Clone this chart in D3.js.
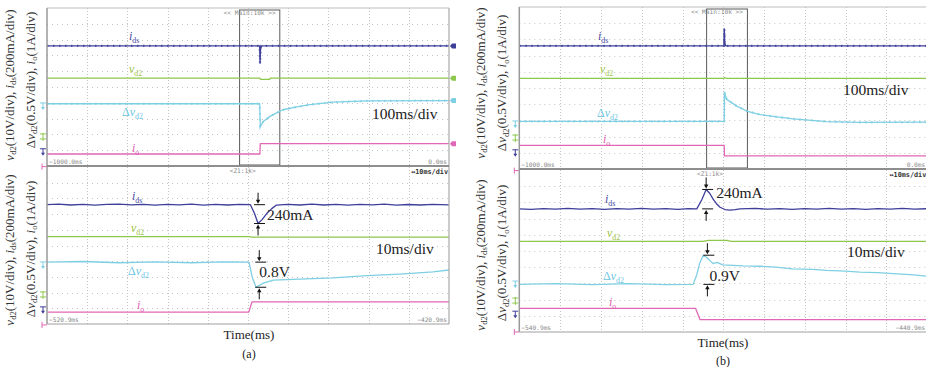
<!DOCTYPE html>
<html>
<head>
<meta charset="utf-8">
<script src="https://cdn.jsdelivr.net/npm/d3@7"></script>
<style>
  html, body { margin: 0; padding: 0; background: #fff; }
  svg { display: block; }
</style>
</head>
<body>
<svg id="fig" width="926" height="367"></svg>
<script>
// ---------------------------------------------------------------
// Measured waveforms: [time (ms), value] pairs, value relative to
// the pre-step level of each channel (ids in mA, vd2 / Δvd2 in V, io in A)
// ---------------------------------------------------------------

// (a) main window, 100 ms/div
const aMainIds = [[-1000, 0], [-471, 0], [-470, -220], [-469, -60], [-467, 0], [0, 0]];
const aMainVd2 = [[-1000, 0], [-470, 0], [-469, -0.8], [-446, -0.8], [-445, 0], [0, 0]];
const aMainDv = [[-1000, 0], [-471, 0], [-469.4, -0.72], [-462, -0.56], [-445.3, -0.40], [-428.6, -0.29],
  [-413, -0.19], [-378.9, -0.10], [-345.8, -0.03], [-288.6, 0.05], [-204, 0.09], [0, 0.10]];
const aMainIo = [[-1000, 0], [-470.5, 0], [-469.5, 0.65], [0, 0.65]];

// (a) zoom window, 10 ms/div
const aZoomIds = [[-520.9, 0], [-518, 6], [-515, -4], [-512, 5], [-509, -6], [-506, 3], [-503, 8], [-500, -3],
  [-497, 4], [-494, -6], [-491, 5], [-488, -2], [-485, 6], [-482, -5], [-479, 3], [-476, -4], [-473, 5],
  [-470.3, 0], [-469.3, -110], [-468.4, -240], [-467.4, -190], [-466.2, -110], [-465, -50], [-463.8, -5],
  [-461, 5], [-458, -4], [-455, 6], [-452, -4], [-449, 3], [-446, -6], [-443, 5], [-440, -3], [-437, 6],
  [-434, -5], [-431, 2], [-428, -4], [-425, 5], [-420.9, -2]];
const aZoomVd2 = [[-520.9, 0], [-470.5, 0], [-470, -0.3], [-420.9, -0.3]];
const aZoomDv = [[-520.9, 0], [-512, 0.02], [-503, -0.02], [-494, 0.01], [-485, -0.02], [-477, 0.01],
  [-470.65, 0], [-469.8, -0.5], [-468.9, -0.8], [-467.1, -0.67], [-464.6, -0.57], [-458, -0.54],
  [-449.8, -0.5], [-441.4, -0.43], [-433.1, -0.38], [-424.9, -0.31], [-420.9, -0.25]];
const aZoomIo = [[-520.9, 0], [-470.7, 0], [-469.9, 0.65], [-420.9, 0.65]];

// (b) main window, 100 ms/div
const bMainIds = [[-1000, 0], [-498.5, 0], [-497.5, 210], [-496.5, 40], [-494, 0], [0, 0]];
const bMainVd2 = [[-1000, 0], [-498, 0], [-497, 0.5], [-493, 0], [0, 0]];
const bMainDv = [[-1000, 0], [-497.8, 0], [-497.2, 0.9], [-491.7, 0.68], [-467, 0.47], [-442.6, 0.32],
  [-410, 0.21], [-369, 0.14], [-329, 0.08], [-246.6, -0.01], [-165, -0.03], [0, -0.02]];
const bMainIo = [[-1000, 0], [-497.8, 0], [-497.2, -0.65], [0, -0.65]];

// (b) zoom window, 10 ms/div
const bZoomIds = [[-540.9, 0], [-538, -5], [-535, 4], [-532, -3], [-529, 6], [-526, -4], [-523, 3], [-520, -6],
  [-517, 4], [-514, -3], [-511, 5], [-508, -4], [-505, 3], [-502, -5], [-499.5, 2],
  [-497.4, 0], [-496.2, 110], [-495.1, 240], [-494.2, 190], [-493.4, 120], [-492.5, 60], [-491.7, 20],
  [-490.5, -8], [-489.3, -15], [-488, -8], [-486.8, 0], [-483, 5], [-480, -4], [-477, 3], [-474, -5],
  [-471, 4], [-468, -3], [-465, 6], [-462, -4], [-459, 3], [-456, -5], [-453, 4], [-450, -3], [-447, 5],
  [-444, -4], [-440.9, 2]];
const bZoomVd2 = [[-540.9, 0], [-496, 0], [-494.5, 0.5], [-490, 0.5], [-489, 0], [-440.9, 0]];
const bZoomDv = [[-540.9, 0], [-532, 0.02], [-523, -0.01], [-514, 0.02], [-505, -0.01], [-498.3, 0],
  [-497.4, 0.3], [-496.7, 0.65], [-495.8, 0.9], [-494.9, 0.82], [-493.4, 0.64], [-492.5, 0.68],
  [-491, 0.6], [-486, 0.57], [-482, 0.56], [-478, 0.53], [-473.9, 0.48], [-469, 0.46], [-465.6, 0.43],
  [-461, 0.41], [-457.4, 0.38], [-453, 0.36], [-449.3, 0.33], [-445, 0.3], [-440.9, 0.25]];
const bZoomIo = [[-540.9, 0], [-497.7, 0], [-496.6, -0.7], [-440.9, -0.7]];

// Annotated excursions
const aIdsDip = 240;   // mA
const aDvDip = 0.8;    // V
const bIdsPeak = 240;  // mA
const bDvPeak = 0.9;   // V

// Time windows (ms)
const mainWindow = [-1000, 0];
const aZoomWindow = [-520.9, -420.9];
const bZoomWindow = [-540.9, -440.9];

// ---------------------------------------------------------------
// Channel settings (units per division, colours, labels)
// ---------------------------------------------------------------
const CH = {
  ids: { unit: 200, color: "#3e3e9b", text: "#4a4aa3", label: [["i", "i"], ["ds", "s"]] },
  vd2: { unit: 10, color: "#8dc84c", text: "#a2c44a", label: [["v", "i"], ["d2", "s"]] },
  dv:  { unit: 0.5, color: "#7fcfe3", text: "#6cc5df", label: [["Δ", ""], ["v", "i"], ["d2", "s"]] },
  io:  { unit: 1, color: "#e067b5", text: "#e060b0", label: [["i", "i"], ["o", "s"]] }
};

const svg = d3.select("#fig");
const SERIF = "'Liberation Serif', 'Times New Roman', serif";
const MONO = "'DejaVu Sans Mono', monospace";

// rich text with italics and subscripts
function richText(sel, parts, size) {
  let shifted = false;
  parts.forEach(([txt, st]) => {
    const t = sel.append("tspan").text(txt);
    if (st === "i") t.attr("font-style", "italic");
    if (st === "s") {
      t.attr("font-size", size * 0.66);
      if (!shifted) { t.attr("dy", size * 0.22); shifted = true; }
    } else if (shifted) {
      t.attr("dy", -size * 0.22); shifted = false;
    }
  });
}

function drawFigure(f) {
  const g = svg.append("g");
  const x0 = f.x0, x1 = f.x1;
  const panes = [
    { key: "main", y0: f.main.y0, y1: f.main.y1, t: mainWindow, data: f.mainData, labels: f.mainLabels, marks: f.mainMarks },
    { key: "zoom", y0: f.zoom.y0, y1: f.zoom.y1, t: f.zoomWindow, data: f.zoomData, labels: f.zoomLabels, marks: f.zoomMarks }
  ];
  const clipId = "clip" + f.id;
  const defs = svg.append("defs");

  panes.forEach((p, pi) => {
    p.x = d3.scaleLinear().domain(p.t).range([x0, x1]);
    p.y = d3.scaleLinear().domain([0, 10]).range([p.y0, p.y1]);
    defs.append("clipPath").attr("id", clipId + pi)
      .append("rect").attr("x", x0).attr("y", p.y0).attr("width", x1 - x0).attr("height", p.y1 - p.y0);

    // grid: horizontal dotted rows
    const grid = g.append("g").attr("stroke", "#c4c4c4").attr("stroke-width", 1);
    d3.range(1, 10).forEach(k => {
      grid.append("line").attr("x1", x0).attr("x2", x1)
        .attr("y1", Math.round(p.y(k)) + 0.5).attr("y2", Math.round(p.y(k)) + 0.5)
        .attr("stroke-dasharray", "1,4");
    });
    // vertical division lines
    const divX = d3.scaleLinear().domain([0, 10]).range([x0, x1]);
    d3.range(1, 10).forEach(k => {
      grid.append("line").attr("x1", Math.round(divX(k)) + 0.5).attr("x2", Math.round(divX(k)) + 0.5)
        .attr("y1", p.y0).attr("y2", p.y1).attr("stroke-dasharray", "1,2");
    });
  });

  // zoom-window box in the main view
  const pm = panes[0], pz = panes[1];
  const bx0 = pm.x(f.zoomWindow[0]), bx1 = pm.x(f.zoomWindow[1]);
  g.append("rect").attr("x", bx0).attr("y", pm.y0 + 2).attr("width", bx1 - bx0).attr("height", pm.y1 - pm.y0 - 3)
    .attr("fill", "none").attr("stroke", "#5a5a5a").attr("stroke-width", 1);

  // traces
  panes.forEach((p, pi) => {
    const tg = g.append("g").attr("clip-path", `url(#${clipId}${pi})`);
    ["vd2", "io", "dv", "ids"].forEach(ch => {
      const c = CH[ch];
      const line = d3.line()
        .x(d => p.x(d[0]))
        .y(d => p.y(f.pos[ch] - d[1] / c.unit));
      tg.append("path").datum(p.data[ch]).attr("d", line)
        .attr("fill", "none").attr("stroke", c.color).attr("stroke-width", 1.3)
        .attr("stroke-linejoin", "round");
      // sampled-noise beading on the slow-timebase ids / Δvd2 records
      if (p.key === "main" && (ch === "ids" || ch === "dv")) {
        tg.append("path").datum(p.data[ch]).attr("d", line)
          .attr("fill", "none").attr("stroke", c.color).attr("stroke-width", 2.2)
          .attr("stroke-dasharray", "1.5,4.5").attr("opacity", 0.8);
      }
    });

    // channel labels
    Object.keys(p.labels).forEach(ch => {
      const [lx, ly] = p.labels[ch];
      const t = g.append("text").attr("x", lx).attr("y", ly)
        .attr("font-family", SERIF).attr("font-size", 12).attr("fill", CH[ch].text);
      richText(t, CH[ch].label, 12);
    });

    // ground markers left of the screen
    p.marks.forEach(([ch, dv]) => {
      const yy = p.y(dv), c = CH[ch].color, mx = x0 - 4;
      const mg = g.append("g").attr("stroke", c).attr("stroke-width", 1).attr("fill", c);
      if (ch === "io") {
        mg.append("line").attr("x1", mx - 1).attr("x2", mx - 1).attr("y1", yy - 3).attr("y2", yy + 3);
        mg.append("line").attr("x1", mx - 1).attr("x2", x0).attr("y1", yy).attr("y2", yy);
      } else if (ch === "vd2") {
        mg.append("line").attr("x1", mx).attr("x2", mx).attr("y1", yy - 4).attr("y2", yy + 4);
        mg.append("line").attr("x1", mx - 3).attr("x2", mx + 3).attr("y1", yy - 3).attr("y2", yy - 3);
        mg.append("line").attr("x1", mx - 3).attr("x2", mx + 3).attr("y1", yy + 2).attr("y2", yy + 2);
      } else {
        mg.append("line").attr("x1", mx - 3).attr("x2", mx + 3).attr("y1", yy - 3).attr("y2", yy - 3);
        mg.append("line").attr("x1", mx).attr("x2", mx).attr("y1", yy - 3).attr("y2", yy + 2);
        mg.append("path").attr("stroke", "none")
          .attr("d", `M${mx - 2},${yy + 1}L${mx + 2},${yy + 1}L${mx},${yy + 4}Z`);
      }
    });
  });

  // right-edge channel markers (main view only)
  if (f.rightMarks) {
    ["ids", "vd2", "dv", "io"].forEach(ch => {
      const last = pm.data[ch][pm.data[ch].length - 1][1];
      const yy = pm.y(f.pos[ch] - last / CH[ch].unit);
      g.append("path").attr("fill", CH[ch].color)
        .attr("d", `M${x1 + 1},${yy}L${x1 + 3},${yy - 2.5}L${x1 + 7},${yy - 2.5}L${x1 + 7},${yy + 2.5}L${x1 + 3},${yy + 2.5}Z`);
    });
  }

  // frame
  const fr = g.append("g").attr("fill", "none");
  fr.append("line").attr("x1", x0).attr("x2", x1).attr("y1", pm.y0).attr("y2", pm.y0).attr("stroke", "#bdbdbd");
  fr.append("line").attr("x1", x0).attr("x2", x0).attr("y1", pm.y0).attr("y2", pz.y1).attr("stroke", "#9a9a9a").attr("stroke-width", 1.5);
  fr.append("line").attr("x1", x1).attr("x2", x1).attr("y1", pm.y0).attr("y2", pz.y1).attr("stroke", "#a8a8a8").attr("stroke-width", 1.2);
  fr.append("line").attr("x1", x0).attr("x2", x1).attr("y1", pm.y1).attr("y2", pm.y1).attr("stroke", "#8e8e8e").attr("stroke-width", 2);
  fr.append("line").attr("x1", x0).attr("x2", x1).attr("y1", pz.y1).attr("y2", pz.y1).attr("stroke", "#a0a0a0").attr("stroke-width", 1.2);

  // scope annotations
  const small = (x, y, txt, anchor, extra) => {
    const t = g.append("text").attr("x", x).attr("y", y).attr("text-anchor", anchor || "start")
      .attr("font-family", MONO).attr("font-size", 6.2).attr("fill", "#8a8a8a").text(txt);
    if (extra) extra(t);
    return t;
  };
  small((bx0 + bx1) / 2 - 10, pm.y0 + 6.5, "<< Main:10k >>", "middle");
  small(x0 + 2, pm.y1 - 2.5, d3.format(".1f")(mainWindow[0]) + "ms");
  small(x1 - 2, pm.y1 - 2.5, d3.format(".1f")(mainWindow[1]) + "ms", "end");
  small((bx0 + bx1) / 2 - 17, pz.y0 + 5.5, "<Z1:1k>", "middle");
  small(x1 - 1, pz.y0 + 7, "↔10ms/div", "end", t => t.attr("font-weight", "bold").attr("fill", "#333").attr("font-size", 6.8));
  small(x0 + 2, pz.y1 - 2.5, d3.format(".1f")(f.zoomWindow[0]) + "ms");
  small(x1 - 2, pz.y1 - 2.5, d3.format(".1f")(f.zoomWindow[1]) + "ms", "end");

  // time-base notes
  const big = (x, y, txt) => g.append("text").attr("x", x).attr("y", y)
    .attr("font-family", SERIF).attr("font-size", 15.5).attr("fill", "#222").text(txt);
  big(f.mainNote[0], f.mainNote[1], "100ms/div");
  big(f.zoomNote[0], f.zoomNote[1], "10ms/div");

  // dimension arrows for the annotated excursions
  f.dims.forEach(d => {
    const c = CH[d.ch];
    const ax = pz.x(d.t);
    const yBase = pz.y(f.pos[d.ch]);
    const yPeak = pz.y(f.pos[d.ch] - d.value / c.unit);
    const yTop = Math.min(yBase, yPeak), yBot = Math.max(yBase, yPeak);
    const ag = g.append("g").attr("stroke", "#111").attr("stroke-width", 1).attr("fill", "#111");
    ag.append("line").attr("x1", ax - 4).attr("x2", ax + 7).attr("y1", yTop).attr("y2", yTop);
    ag.append("line").attr("x1", ax - 4).attr("x2", ax + 7).attr("y1", yBot).attr("y2", yBot);
    ag.append("line").attr("x1", ax).attr("x2", ax).attr("y1", yTop - 12).attr("y2", yTop - 4);
    ag.append("path").attr("stroke", "none").attr("d", `M${ax - 2.2},${yTop - 5}L${ax + 2.2},${yTop - 5}L${ax},${yTop - 1}Z`);
    ag.append("line").attr("x1", ax).attr("x2", ax).attr("y1", yBot + 12).attr("y2", yBot + 4);
    ag.append("path").attr("stroke", "none").attr("d", `M${ax - 2.2},${yBot + 5}L${ax + 2.2},${yBot + 5}L${ax},${yBot + 1}Z`);
    const mag = Math.abs(d.value);
    const txt = d.ch === "ids" ? mag + "mA" : mag + "V";
    big(ax + d.dx, yTop + d.dy, txt);
  });

  // axis caption and sub-figure tag
  g.append("text").attr("x", f.captionX).attr("y", f.captionY).attr("text-anchor", "middle")
    .attr("font-family", SERIF).attr("font-size", 13).attr("fill", "#222").text("Time(ms)");
  g.append("text").attr("x", f.captionX).attr("y", f.tagY).attr("text-anchor", "middle")
    .attr("font-family", SERIF).attr("font-size", 12).attr("fill", "#222").text(f.tag);

  // rotated y-axis captions, one pair per window
  const line1 = [["v", "i"], ["d2", "s"], ["(10V/div),  ", ""], ["i", "i"], ["ds", "s"], ["(200mA/div)", ""]];
  const line2 = [["Δ", ""], ["v", "i"], ["d2", "s"], ["(0.5V/div),  ", ""], ["i", "i"], ["o", "s"], ["(1A/div)", ""]];
  f.yCaps.forEach(([bx, cy, which]) => {
    const t = g.append("text").attr("transform", `translate(${bx},${cy}) rotate(-90)`)
      .attr("text-anchor", "middle").attr("font-family", SERIF).attr("font-size", 13).attr("fill", "#333");
    richText(t, which === 1 ? line1 : line2, 13);
  });
}

drawFigure({
  id: "a", tag: "(a)",
  x0: 47, x1: 449,
  main: { y0: 8, y1: 166 }, zoom: { y0: 167, y1: 324 },
  zoomWindow: aZoomWindow,
  pos: { ids: 2.4, vd2: 4.44, dv: 6.06, io: 9.24 },
  mainData: { ids: aMainIds, vd2: aMainVd2, dv: aMainDv, io: aMainIo },
  zoomData: { ids: aZoomIds, vd2: aZoomVd2, dv: aZoomDv, io: aZoomIo },
  mainLabels: { ids: [129, 40], vd2: [129, 73], dv: [122, 116], io: [132, 152] },
  zoomLabels: { ids: [132, 200], vd2: [131, 232], dv: [128, 275], io: [137, 309] },
  mainMarks: [["dv", 6.2], ["vd2", 8.16], ["ids", 9.1], ["io", 10.04]],
  zoomMarks: [["dv", 6.24], ["vd2", 8.15], ["ids", 9.1], ["io", 10.06]],
  rightMarks: true,
  mainNote: [372, 119], zoomNote: [376, 254],
  dims: [
    { ch: "ids", t: -468.4, value: -aIdsDip, dx: 9, dy: 15 },
    { ch: "dv", t: -468.1, value: -aDvDip, dx: 0, dy: 15 }
  ],
  captionX: 249, captionY: 339, tagY: 358,
  yCaps: [[13.5, 85, 1], [34.5, 80, 2], [13.5, 250, 1], [34.5, 249, 2]]
});

drawFigure({
  id: "b", tag: "(b)",
  x0: 519.3, x1: 927.3,
  main: { y0: 7, y1: 169 }, zoom: { y0: 170, y1: 332 },
  zoomWindow: bZoomWindow,
  pos: { ids: 2.4, vd2: 4.4, dv: 7.06, io: 8.54 },
  mainData: { ids: bMainIds, vd2: bMainVd2, dv: bMainDv, io: bMainIo },
  zoomData: { ids: bZoomIds, vd2: bZoomVd2, dv: bZoomDv, io: bZoomIo },
  mainLabels: { ids: [598, 40], vd2: [600, 73], dv: [597, 117], io: [603, 143] },
  zoomLabels: { ids: [605, 203], vd2: [607, 237], dv: [603, 280], io: [609, 306] },
  mainMarks: [["dv", 7.22], ["vd2", 8.09], ["ids", 9.0], ["io", 10.1]],
  zoomMarks: [["dv", 7.04], ["vd2", 8.09], ["ids", 8.9], ["io", 10.0]],
  rightMarks: false,
  mainNote: [843, 95], zoomNote: [847, 257],
  dims: [
    { ch: "ids", t: -495.1, value: bIdsPeak, dx: 10, dy: 9 },
    { ch: "dv", t: -494.8, value: bDvPeak, dx: 2, dy: 26 }
  ],
  captionX: 723, captionY: 347, tagY: 365,
  yCaps: [[484.5, 83, 1], [506, 83, 2], [484.5, 255, 1], [506, 253, 2]]
});
</script>
</body>
</html>
